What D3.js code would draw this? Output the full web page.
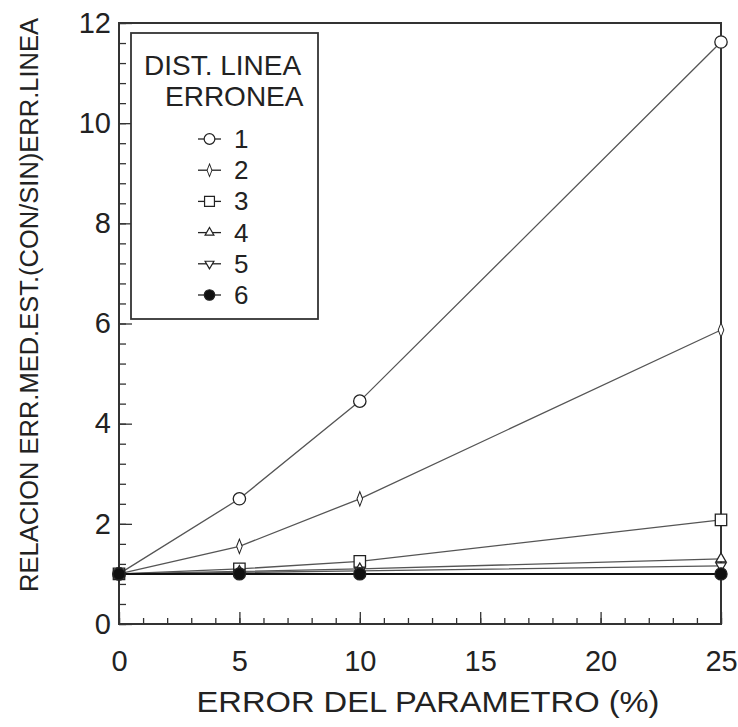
<!DOCTYPE html>
<html>
<head>
<meta charset="utf-8">
<script src="https://cdn.jsdelivr.net/npm/d3@7"></script>
<style>
  body { margin: 0; background: #fff; }
  text { font-family: "Liberation Sans", Arial, sans-serif; fill: #222; }
</style>
</head>
<body>
<div id="viz_chart"></div>
<script>
// values
const errorPct = [0, 5, 10, 25];
const serie1 = [1, 2.5, 4.45, 11.62];
const serie2 = [1, 1.55, 2.5, 5.87];
const serie3 = [1, 1.1, 1.25, 2.08];
const serie4 = [1, 1.05, 1.1, 1.3];
const serie5 = [1, 1.03, 1.06, 1.16];
const serie6 = [1, 1, 1, 1];
const serieNames = ["1", "2", "3", "4", "5", "6"];
const xTicks = [0, 5, 10, 15, 20, 25];
const yTicks = [0, 2, 4, 6, 8, 10, 12];

const width = 738, height = 727;
const marginLeft = 119, marginTop = 23, marginRight = 17, marginBottom = 103;

var allSeries = [serie1, serie2, serie3, serie4, serie5, serie6];

var x = d3.scaleLinear().domain([0, 25]).range([marginLeft, width - marginRight]);
var y = d3.scaleLinear().domain([0, 12]).range([height - marginBottom, marginTop]);

var svg = d3.select("#viz_chart").append("svg")
    .attr("width", width)
    .attr("height", height);

// marker for each series
function symbolFor(i, legend)
{
    var shapes = [d3.symbolCircle, d3.symbolDiamond, d3.symbolSquare, d3.symbolTriangle, d3.symbolTriangle, d3.symbolCircle];
    var sizes = [120, 55, 130, 45, 45, 115];
    var k = legend ? 0.75 : 1;
    return d3.symbol().type(shapes[i]).size(sizes[i] * k)();
}
function symbolTransform(i, px, py)
{
    if (i == 1) return "translate(" + px + "," + py + ") scale(0.7,1.05)";
    if (i == 4) return "translate(" + px + "," + py + ") rotate(180)";
    return "translate(" + px + "," + py + ")";
}

// axes: inward ticks, minor and major
svg.append("g")
    .attr("transform", "translate(0," + (height - marginBottom) + ")")
    .call(d3.axisBottom(x).tickValues(d3.range(0, 26, 1)).tickSize(-6).tickFormat(""))
    .call(g => g.select(".domain").remove());
svg.append("g")
    .attr("transform", "translate(0," + (height - marginBottom) + ")")
    .call(d3.axisBottom(x).tickValues(xTicks).tickSize(-12).tickPadding(26).tickFormat(d3.format("d")))
    .call(g => g.select(".domain").remove())
    .call(g => g.selectAll("text").attr("font-size", 29).attr("font-family", "Liberation Sans, Arial, sans-serif").attr("fill", "#222"));

svg.append("g")
    .attr("transform", "translate(" + marginLeft + ",0)")
    .call(d3.axisLeft(y).tickValues(d3.range(0, 12.01, 0.4)).tickSize(-7).tickFormat(""))
    .call(g => g.select(".domain").remove());
svg.append("g")
    .attr("transform", "translate(" + marginLeft + ",0)")
    .call(d3.axisLeft(y).tickValues(yTicks).tickSize(-13).tickPadding(8).tickFormat(d3.format("d")))
    .call(g => g.select(".domain").remove())
    .call(g => g.selectAll("text").attr("font-size", 29).attr("font-family", "Liberation Sans, Arial, sans-serif").attr("fill", "#222"));

svg.selectAll(".tick line").attr("stroke", "#333").attr("stroke-width", 1.3);

// frame
svg.append("rect")
    .attr("x", marginLeft).attr("y", marginTop)
    .attr("width", width - marginLeft - marginRight)
    .attr("height", height - marginTop - marginBottom)
    .attr("fill", "none").attr("stroke", "#333").attr("stroke-width", 2);

// lines
var line = d3.line().x((d, i) => x(errorPct[i])).y(d => y(d));
allSeries.forEach(function(s, i) {
    svg.append("path")
        .attr("d", line(s))
        .attr("fill", "none")
        .attr("stroke", i == 5 ? "#111" : "#555")
        .attr("stroke-width", i == 5 ? 2 : 1.3);
});

// markers
allSeries.forEach(function(s, i) {
    svg.append("g").selectAll("path")
        .data(s)
        .join("path")
        .attr("d", symbolFor(i, false))
        .attr("transform", (d, j) => symbolTransform(i, x(errorPct[j]), y(d)))
        .attr("fill", i == 5 ? "#111" : "#fff")
        .attr("stroke", "#222")
        .attr("stroke-width", 1.3);
});

// legend
var legend = svg.append("g");
legend.append("rect")
    .attr("x", 131).attr("y", 33).attr("width", 187).attr("height", 286)
    .attr("fill", "#fff").attr("stroke", "#333").attr("stroke-width", 1.8);
legend.append("text").attr("x", 144).attr("y", 75).attr("font-size", 28).text("DIST. LINEA");
legend.append("text").attr("x", 165).attr("y", 106).attr("font-size", 28).text("ERRONEA");

serieNames.forEach(function(name, i) {
    var ly = 139 + i * 31.2;
    legend.append("line")
        .attr("x1", 198).attr("x2", 221).attr("y1", ly).attr("y2", ly)
        .attr("stroke", "#222").attr("stroke-width", 1.3);
    legend.append("path")
        .attr("d", symbolFor(i, true))
        .attr("transform", symbolTransform(i, 209.5, ly))
        .attr("fill", i == 5 ? "#111" : "#fff")
        .attr("stroke", "#222").attr("stroke-width", 1.2);
    legend.append("text")
        .attr("x", 234).attr("y", ly + 9)
        .attr("font-size", 26).text(name);
});

// axis titles
svg.append("text")
    .attr("x", 428).attr("y", 712)
    .attr("text-anchor", "middle")
    .attr("font-size", 30)
    .attr("textLength", 463).attr("lengthAdjust", "spacingAndGlyphs")
    .text("ERROR DEL PARAMETRO (%)");

svg.append("text")
    .attr("transform", "translate(38,305) rotate(-90)")
    .attr("text-anchor", "middle")
    .attr("font-size", 25.5)
    .text("RELACION ERR.MED.EST.(CON/SIN)ERR.LINEA");
</script>
</body>
</html>
